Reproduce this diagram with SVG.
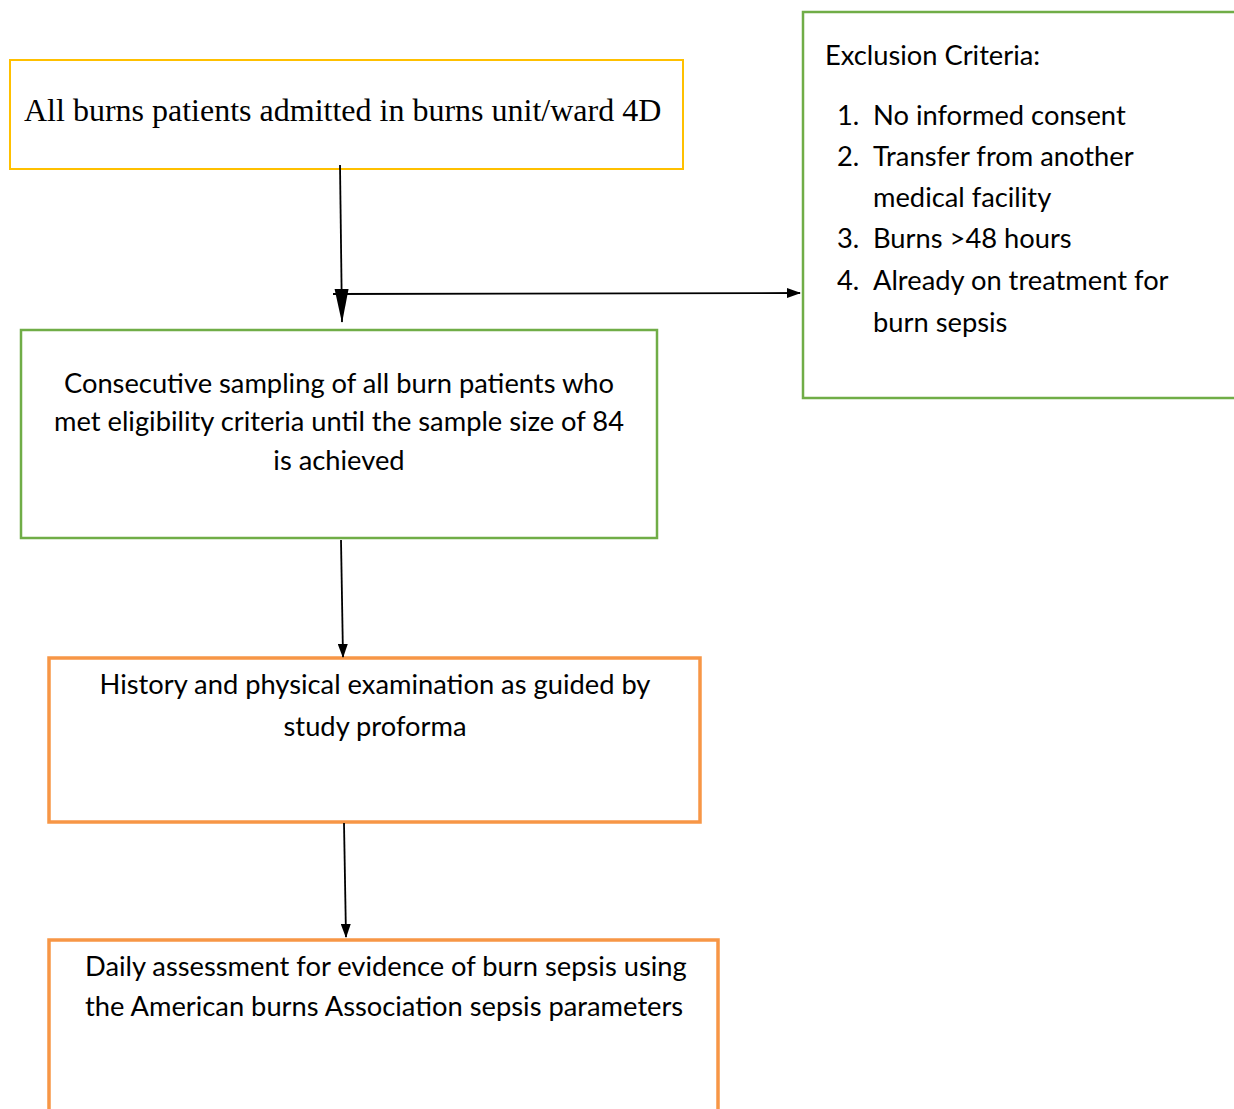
<svg xmlns="http://www.w3.org/2000/svg" width="1234" height="1109" viewBox="0 0 1234 1109">
<style>
.box{fill:#fff;}
.y{stroke:#FFC000;stroke-width:2;}
.g{stroke:#70AD47;stroke-width:2.5;}
.o{stroke:#F79646;stroke-width:3.5;}
.t{font-family:Lato,"Open Sans",sans-serif;font-size:27.3px;fill:#000;}
.c{text-anchor:middle;}
.serif{font-family:"Liberation Serif","Times New Roman",serif;font-size:32px;fill:#000;}
.ln{stroke:#000;stroke-width:1.8;fill:none;}
</style>
<defs>
<marker id="ah" markerWidth="14" markerHeight="10" refX="13" refY="5" orient="auto" markerUnits="userSpaceOnUse">
<path d="M0,0 L14,5 L0,10 Z" fill="#000"/>
</marker>
<marker id="ahl" markerWidth="34" markerHeight="16" refX="33" refY="8" orient="auto" markerUnits="userSpaceOnUse">
<path d="M0,1 L34,8 L0,15 Z" fill="#000"/>
</marker>
</defs>
<g id="n1">
<rect class="box y" x="10" y="60" width="673" height="109"/>
<text class="serif" x="24" y="121">All burns patients admitted in burns unit/ward 4D</text>
</g>
<g id="n2">
<rect class="box g" x="21" y="330" width="636" height="208"/>
<text class="t c" x="339" y="393">Consecutive sampling of all burn patients who</text>
<text class="t c" x="339" y="431">met eligibility criteria until the sample size of 84</text>
<text class="t c" x="339" y="470">is achieved</text>
</g>
<g id="n3">
<rect class="box o" x="49" y="658" width="651" height="164"/>
<text class="t c" x="375" y="694">History and physical examination as guided by</text>
<text class="t c" x="375" y="736">study proforma</text>
</g>
<g id="n4">
<rect class="box o" x="49" y="940" width="669" height="180"/>
<text class="t" x="85" y="976">Daily assessment for evidence of burn sepsis using</text>
<text class="t" x="85" y="1016">the American burns Association sepsis parameters</text>
</g>
<g id="n5">
<rect class="box g" x="803" y="12" width="440" height="386"/>
<text class="t" x="825" y="65">Exclusion Criteria:</text>
<text class="t" x="837" y="125">1.</text><text class="t" x="873" y="125">No informed consent</text>
<text class="t" x="837" y="166">2.</text><text class="t" x="873" y="166">Transfer from another</text>
<text class="t" x="873" y="207">medical facility</text>
<text class="t" x="837" y="248">3.</text><text class="t" x="873" y="248">Burns &gt;48 hours</text>
<text class="t" x="837" y="290">4.</text><text class="t" x="873" y="290">Already on treatment for</text>
<text class="t" x="873" y="332">burn sepsis</text>
</g>
<g id="connectors">
<line class="ln" x1="340" y1="165" x2="342" y2="322" marker-end="url(#ahl)"/>
<line class="ln" x1="333" y1="294" x2="800" y2="293" marker-end="url(#ah)"/>
<line class="ln" x1="341" y1="540" x2="343" y2="657" marker-end="url(#ah)"/>
<line class="ln" x1="344" y1="823" x2="346" y2="937" marker-end="url(#ah)"/>
</g>
</svg>
